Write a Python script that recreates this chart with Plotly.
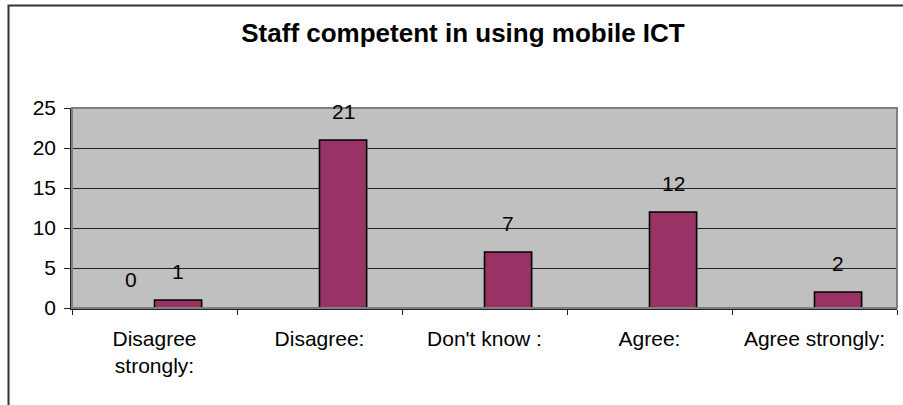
import plotly.graph_objects as go

# Survey responses: "Staff competent in using mobile ICT"
categories = ["Disagree<br>strongly:", "Disagree:", "Don't know :", "Agree:", "Agree strongly:"]
series_a = [0, None, None, None, None]
series_b = [1, 21, 7, 12, 2]
y_ticks = [0, 5, 10, 15, 20, 25]

W, H = 903, 405
M_L, M_R, M_T, M_B = 72, 6, 108, 97
plot_w = W - M_L - M_R
plot_h = H - M_T - M_B
BARGAP = 1.5 / 3.5

FONT = "Liberation Sans, Arial, sans-serif"
BAR_FILL = "#993366"

fig = go.Figure()
fig.add_trace(go.Bar(x=categories, y=series_a, marker=dict(color=BAR_FILL, line=dict(color="black", width=1.6)),
                     showlegend=False, hoverinfo="skip"))
fig.add_trace(go.Bar(x=categories, y=series_b, marker=dict(color=BAR_FILL, line=dict(color="black", width=1.6)),
                     showlegend=False, hoverinfo="skip"))

# value labels above each bar of the grouped pair
cat_px = plot_w / len(categories)
bar_px = cat_px * (1 - BARGAP) / 2
annotations = []
for vals, shift in ((series_a, -bar_px / 2), (series_b, bar_px / 2)):
    for c, v in zip(categories, vals):
        if v is None:
            continue
        annotations.append(dict(x=c, y=v, xref="x", yref="y", text=str(v), showarrow=False,
                                xshift=shift, yshift=28.5, yanchor="middle",
                                font=dict(family=FONT, size=21, color="black")))


def px_x(p):
    return (p - M_L) / plot_w


def px_y(p):
    return (H - M_B - p) / plot_h


shapes = [
    # plot area frame
    dict(type="rect", xref="paper", yref="paper", x0=0, x1=1, y0=0, y1=1,
         line=dict(color="#808080", width=2), layer="above"),
    # outer chart frame
    dict(type="rect", xref="paper", yref="paper", x0=px_x(8.5), x1=px_x(W + 10),
         y0=px_y(H + 10), y1=px_y(5.5), line=dict(color="#333333", width=2)),
]

fig.update_layout(
    width=W, height=H,
    margin=dict(l=M_L, r=M_R, t=M_T, b=M_B, pad=0),
    paper_bgcolor="white",
    plot_bgcolor="#C0C0C0",
    barmode="group",
    bargap=BARGAP,
    bargroupgap=0,
    font=dict(family=FONT, size=21, color="black"),
    title=dict(text="<b>Staff competent in using mobile ICT</b>", x=463 / W, xanchor="center",
               y=1 - 33 / H, yanchor="middle", yref="container",
               font=dict(family=FONT, size=26, color="black")),
    xaxis=dict(type="category", tickson="boundaries", ticks="outside", ticklen=5, tickwidth=1,
               tickcolor="#222222", showline=True, linecolor="#222222", linewidth=1.5,
               showgrid=False, ticklabelstandoff=11, tickfont=dict(family=FONT, size=21)),
    yaxis=dict(range=[0, 25], tickvals=y_ticks, ticks="outside", ticklen=6, tickwidth=1,
               tickcolor="#222222", showline=True, linecolor="#222222", linewidth=1.5,
               showgrid=True, gridcolor="#222222", gridwidth=1, zeroline=False,
               ticklabelstandoff=4, tickfont=dict(family=FONT, size=21)),
    annotations=annotations,
    shapes=shapes,
)

fig.write_html("out.html")
